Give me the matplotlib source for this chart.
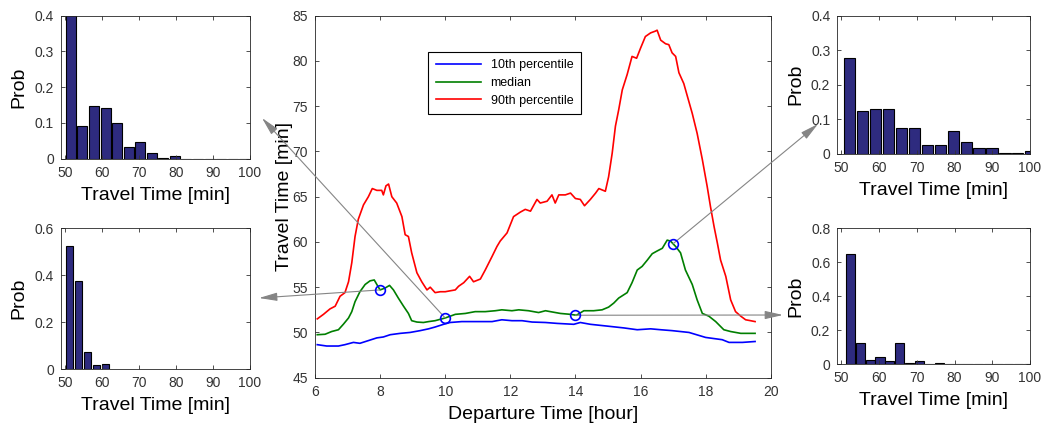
import matplotlib
matplotlib.use("Agg")
import matplotlib.pyplot as plt
import numpy as np

plt.rcParams['font.family'] = ['Liberation Sans', 'DejaVu Sans']

# travel time percentiles over the day
hours_p10 = [6.07, 6.36, 6.72, 6.92, 7.18, 7.38, 7.64, 7.90, 8.10, 8.31, 8.62, 8.92, 9.23, 9.49,
             9.69, 9.95, 10.15, 10.51, 10.92, 11.44, 11.74, 12.05, 12.36, 12.67, 13.08, 13.44,
             13.95, 14.15, 14.46, 14.98, 15.49, 15.90, 16.31, 16.62, 16.97, 17.49, 18.00, 18.51,
             18.72, 19.13, 19.52]
p10 = [48.65, 48.5, 48.5, 48.65, 48.9, 48.8, 49.1, 49.4, 49.5, 49.75, 49.9, 50.0, 50.2, 50.4,
       50.6, 50.9, 51.1, 51.2, 51.2, 51.2, 51.4, 51.3, 51.3, 51.15, 51.1, 51.0,
       50.9, 51.1, 50.9, 50.7, 50.5, 50.3, 50.4, 50.3, 50.2, 50.0, 49.45, 49.2,
       48.9, 48.9, 49.0]

hours_med = [6.07, 6.31, 6.51, 6.72, 6.87, 7.03, 7.13, 7.23, 7.38, 7.54, 7.69, 7.82, 7.90, 8.00,
             8.15, 8.29, 8.41, 8.56, 8.72, 8.87, 8.97, 9.13, 9.33, 9.49, 9.69, 10.00, 10.31,
             10.62, 10.92, 11.23, 11.54, 11.74, 12.05, 12.26, 12.56, 12.87, 13.08, 13.23, 13.54,
             13.85, 14.03, 14.26, 14.56, 14.82, 15.02, 15.18, 15.33, 15.59, 15.74, 15.90, 16.05,
             16.21, 16.36, 16.51, 16.67, 16.82, 16.92, 17.08, 17.23, 17.38, 17.59, 17.74, 17.90,
             18.10, 18.31, 18.56, 18.77, 19.08, 19.52]
median = [49.75, 49.8, 50.1, 50.3, 50.9, 51.6, 52.3, 53.4, 54.5, 55.3, 55.7, 55.8, 55.3, 54.7,
          54.9, 55.2, 54.7, 53.8, 52.9, 52.1, 51.3, 51.15, 51.1, 51.2, 51.3, 51.6, 52.0,
          52.1, 52.3, 52.3, 52.4, 52.5, 52.4, 52.5, 52.4, 52.2, 52.4, 52.3, 52.1,
          52.0, 51.9, 52.4, 52.4, 52.5, 52.8, 53.25, 53.8, 54.4, 55.5, 56.9, 57.3,
          58.0, 58.7, 59.0, 59.3, 60.2, 60.1, 59.5, 58.8, 56.9, 55.3, 53.6, 52.1,
          51.8, 51.2, 50.3, 50.1, 49.9, 49.9]

hours_p90 = [6.07, 6.26, 6.46, 6.62, 6.77, 6.92, 7.03, 7.13, 7.23, 7.33, 7.49, 7.64, 7.76, 7.90,
             8.05, 8.10, 8.18, 8.26, 8.36, 8.51, 8.67, 8.77, 8.87, 8.97, 9.13, 9.28, 9.44, 9.54,
             9.69, 9.85, 10.00, 10.15, 10.31, 10.41, 10.57, 10.75, 10.87, 11.08, 11.23, 11.44,
             11.59, 11.69, 11.90, 12.10, 12.31, 12.46, 12.62, 12.82, 12.92, 13.13, 13.28, 13.38,
             13.49, 13.69, 13.85, 14.00, 14.15, 14.28, 14.46, 14.62, 14.72, 14.92, 15.02, 15.13,
             15.23, 15.33, 15.44, 15.59, 15.74, 15.88, 16.00, 16.15, 16.31, 16.46, 16.51, 16.62,
             16.77, 16.87, 16.97, 17.08, 17.18, 17.33, 17.44, 17.59, 17.74, 17.90, 18.05, 18.15,
             18.26, 18.36, 18.46, 18.62, 18.77, 18.92, 19.08, 19.23, 19.38, 19.52]
p90 = [51.5, 52.0, 52.6, 52.9, 54.0, 54.4, 55.6, 57.7, 60.6, 62.5, 64.1, 65.0, 65.9, 65.7,
       65.7, 65.2, 66.2, 66.4, 65.0, 64.3, 62.8, 60.8, 60.6, 58.8, 56.6, 55.6, 54.7, 55.0,
       54.4, 54.5, 54.5, 54.6, 54.7, 55.1, 55.5, 56.2, 55.6, 55.9, 56.9, 58.4,
       59.5, 60.1, 61.0, 62.8, 63.3, 63.6, 63.4, 64.7, 64.3, 64.5, 65.2, 64.3,
       65.2, 65.2, 65.4, 64.8, 64.7, 64.0, 64.7, 65.4, 65.9, 65.6, 67.2, 69.8,
       72.8, 74.6, 76.8, 78.5, 80.5, 80.3, 81.4, 82.7, 83.1, 83.3, 83.4, 82.3,
       81.9, 81.8, 80.9, 80.5, 78.7, 77.5, 76.1, 74.2, 72.0, 69.1, 66.1, 63.9,
       61.7, 59.9, 58.0, 56.2, 53.6, 52.3, 51.8, 51.4, 51.3, 51.2]

# picked departure times (circles on the median)
pick_hours = [8, 10, 14, 17]
pick_vals = [54.7, 51.6, 51.9, 59.8]

# histograms of travel time for the picked departures
bins_8 = [51.2, 53.65, 56.1, 58.55, 61.0]
prob_8 = [0.523, 0.374, 0.075, 0.017, 0.024]

bins_10 = [51.56, 54.69, 57.81, 60.94, 64.06, 67.19, 70.31, 73.44, 76.56, 79.69,
           82.81, 85.94, 89.06, 92.19, 95.31, 98.44]
prob_10 = [0.41, 0.091, 0.147, 0.141, 0.099, 0.034, 0.048, 0.017, 0.001, 0.008,
           0, 0, 0, 0, 0, 0]

bins_14 = [52.36, 54.98, 57.6, 60.22, 62.84, 65.46, 68.08, 70.7, 73.32, 75.94,
           78.56, 81.18, 83.8, 86.42, 89.04, 91.66, 94.28, 96.9, 99.52]
prob_14 = [0.648, 0.124, 0.024, 0.039, 0.018, 0.124, 0.008, 0.016, 0.002, 0.008,
           0, 0, 0, 0, 0, 0, 0, 0, 0]

bins_17 = [52.2, 55.63, 59.06, 62.49, 65.92, 69.35, 72.78, 76.21, 79.64, 83.07,
           86.5, 89.93, 93.36, 96.79, 100.22]
prob_17 = [0.278, 0.123, 0.131, 0.131, 0.074, 0.074, 0.025, 0.025, 0.066, 0.033,
           0.017, 0.017, 0.001, 0.001, 0.009]

W, H = 1041, 428
fig = plt.figure(figsize=(W / 100, H / 100), dpi=100)

axc = '#262626'


def rect(l, t, r, b):
    return [l / W, (H - b) / H, (r - l) / W, (b - t) / H]


def style(ax):
    ax.tick_params(direction='in', top=True, right=True, length=3, width=0.6,
                   labelsize=10, colors='#333333', pad=5)
    for s in ax.spines.values():
        s.set_color(axc)
        s.set_linewidth(0.6)


# main chart
ax = fig.add_axes(rect(315, 15.7, 770.7, 377.7))
ax.plot(hours_p10, p10, color='#0000ff', lw=1.2, label='10th percentile')
ax.plot(hours_med, median, color='#007f00', lw=1.2, label='median')
ax.plot(hours_p90, p90, color='#ff0000', lw=1.2, label='90th percentile')
ax.plot(pick_hours, pick_vals, 'o', mfc='none', mec='#0000ff', ms=7, mew=1.2, zorder=5)
ax.set_xlim(6, 20)
ax.set_ylim(45, 85)
ax.set_xticks(range(6, 21, 2))
ax.set_yticks(range(45, 86, 5))
ax.set_xlabel('Departure Time [hour]', fontsize=14, labelpad=5)
ax.set_ylabel('Travel Time [min]', fontsize=14, labelpad=0)
style(ax)
leg = ax.legend(loc='upper left', bbox_to_anchor=(0.248, 0.9), fontsize=9, fancybox=False,
                handlelength=3.6, borderaxespad=0, framealpha=1, borderpad=0.6, labelspacing=0.45)
leg.get_frame().set_edgecolor('black')
leg.get_frame().set_linewidth(0.8)


def hist(r, centers, probs, width, ymax, yticks):
    a = fig.add_axes(r)
    a.bar(centers, probs, width=width, color='#2e2b7f', edgecolor='black', linewidth=0.8)
    a.set_xlim(48.9, 100)
    a.set_ylim(0, ymax)
    a.set_xticks(range(50, 101, 10))
    a.set_yticks(yticks)
    a.set_yticklabels(['0' if v == 0 else f'{v:g}' for v in yticks])
    a.set_xlabel('Travel Time [min]', fontsize=14, labelpad=5)
    a.set_ylabel('Prob', fontsize=14, labelpad=5)
    style(a)
    return a


hist(rect(61, 15.7, 250, 158.7), bins_10, prob_10, 2.7, 0.4, [0, 0.1, 0.2, 0.3, 0.4])
hist(rect(61, 228.3, 250, 369.3), bins_8, prob_8, 2.0, 0.6, [0, 0.2, 0.4, 0.6])
hist(rect(837.3, 15.7, 1030, 153.7), bins_17, prob_17, 2.97, 0.4, [0, 0.1, 0.2, 0.3, 0.4])
hist(rect(837.3, 228.3, 1030, 364), bins_14, prob_14, 2.4, 0.8, [0, 0.2, 0.4, 0.6, 0.8])

# arrows from the picked points to their histograms
tips = [(259, 298), (262, 118), (783, 315), (818, 124)]
for (hx, hv), (tx, ty) in zip(zip(pick_hours, pick_vals), tips):
    ax.annotate('', xy=(tx / W, (H - ty) / H), xycoords='figure fraction',
                xytext=(hx, hv), textcoords='data', annotation_clip=False,
                arrowprops=dict(arrowstyle='-|>,head_length=1.1,head_width=0.25',
                                color='#858585', lw=0.8, shrinkA=0, shrinkB=0))

fig.savefig('out.png', dpi=100)
